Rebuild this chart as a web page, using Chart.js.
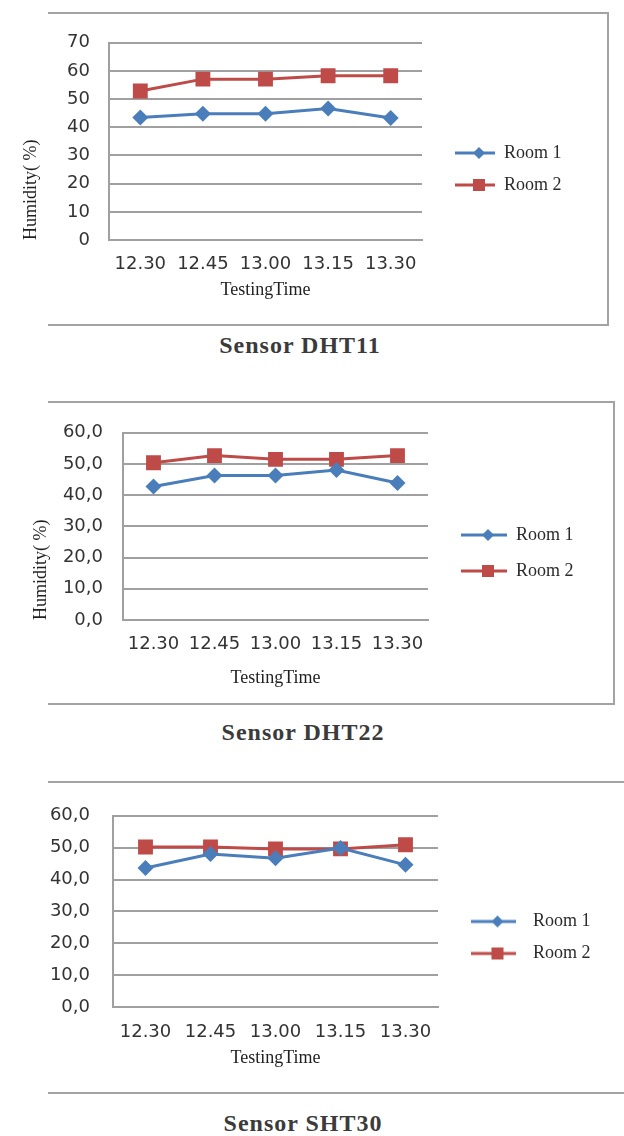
<!DOCTYPE html>
<html>
<head>
<meta charset="utf-8">
<title>Humidity - Sensor DHT11 / DHT22 / SHT30</title>
<script src="https://cdn.jsdelivr.net/npm/chart.js@4.4.1/dist/chart.umd.min.js"></script>
<style>
  body { margin: 0; background: #fff; }
  #page { position: relative; width: 624px; height: 1136px; overflow: hidden; }
  .frame { position: absolute; box-sizing: border-box; border: 2px solid #a3a3a3; border-left: none; }
  canvas { position: absolute; left: 0; }
  .caption { position: absolute; left: 0; text-align: center; font: bold 24px 'Liberation Serif', serif;
             letter-spacing: 1px; color: #3b3b3b; line-height: 28px; }
</style>
</head>
<body>
<div id="page">
  <div class="frame" style="left:48px;top:12px;width:561px;height:314px"></div>
  <canvas id="chartDHT11" width="624" height="312" style="top:13px"></canvas>
  <div class="caption" style="top:331px;width:600px">Sensor DHT11</div>

  <div class="frame" style="left:48px;top:401px;width:567px;height:304px"></div>
  <canvas id="chartDHT22" width="624" height="302" style="top:402px"></canvas>
  <div class="caption" style="top:718px;width:606px">Sensor DHT22</div>

  <div class="frame" style="left:48px;top:781px;width:600px;height:313px"></div>
  <canvas id="chartSHT30" width="624" height="311" style="top:782px"></canvas>
  <div class="caption" style="top:1109px;width:606px">Sensor SHT30</div>
</div>

<script>
// testing times (x axis)
const times = ['12.30', '12.45', '13.00', '13.15', '13.30'];

// humidity (%)
const dht11Room1 = [43.5, 44.8, 44.8, 46.7, 43.3];
const dht11Room2 = [52.9, 57.1, 57.1, 58.3, 58.3];
const dht22Room1 = [42.8, 46.3, 46.3, 48.1, 43.9];
const dht22Room2 = [50.4, 52.7, 51.5, 51.5, 52.7];
const sht30Room1 = [43.6, 48.0, 46.7, 49.9, 44.6];
const sht30Room2 = [50.2, 50.2, 49.6, 49.6, 50.9];

// y tick labels
const ticksDHT11 = ['0', '10', '20', '30', '40', '50', '60', '70'];
const ticksComma = ['0,0', '10,0', '20,0', '30,0', '40,0', '50,0', '60,0'];

const BLUE = '#4a7ebb';
const RED = '#be4b48';
const GRID = '#a0a0a0';
const LEGEND_FONT = 18;

// small "line + marker" image for the legend, like the Excel legend
function legendMarker(color, shape, boxW, lineLen) {
    const c = document.createElement('canvas');
    c.width = Math.ceil(boxW);
    c.height = 18;
    const g = c.getContext('2d');
    g.strokeStyle = color;
    g.lineWidth = 3;
    g.beginPath();
    g.moveTo(0, 9);
    g.lineTo(lineLen, 9);
    g.stroke();
    g.fillStyle = color;
    const mx = lineLen / 2 + 4;
    if (shape === 'diamond') {
        g.beginPath();
        g.moveTo(mx, 3);
        g.lineTo(mx + 6, 9);
        g.lineTo(mx, 15);
        g.lineTo(mx - 6, 9);
        g.closePath();
        g.fill();
    } else {
        g.fillRect(mx - 6, 3, 12, 12);
    }
    return c;
}

function buildChart(id, room1, room2, yMax, yLabels, lay) {
    const markers = [
        legendMarker(BLUE, 'diamond', lay.boxW, lay.lineLen),
        legendMarker(RED, 'square', lay.boxW, lay.lineLen)
    ];
    const canvasH = document.getElementById(id).height;
    // legend box width: padding + marker + gap + room for the text
    const legendW = lay.legendPad + lay.boxW + LEGEND_FONT / 2 + 64;

    new Chart(document.getElementById(id), {
        type: 'line',
        data: {
            labels: times,
            datasets: [
                {
                    label: 'Room 1',
                    data: room1,
                    borderColor: BLUE,
                    backgroundColor: BLUE,
                    borderWidth: 3,
                    pointStyle: 'rectRot',
                    pointRadius: 8,
                    pointBorderWidth: 0,
                    tension: 0
                },
                {
                    label: 'Room 2',
                    data: room2,
                    borderColor: RED,
                    backgroundColor: RED,
                    borderWidth: 3,
                    pointStyle: 'rect',
                    pointRadius: 10.5,
                    pointBorderWidth: 0,
                    tension: 0
                }
            ]
        },
        options: {
            responsive: false,
            animation: false,
            layout: { padding: { left: 0, top: 0, bottom: 0, right: 624 - lay.plotRight - legendW - lay.gapRight } },
            plugins: {
                tooltip: { enabled: false },
                legend: {
                    position: 'right',
                    align: 'center',
                    maxWidth: legendW,
                    labels: {
                        usePointStyle: true,
                        pointStyleWidth: lay.boxW,
                        padding: lay.legendPad,
                        font: { family: 'Liberation Serif', size: LEGEND_FONT },
                        color: '#2b2b2b',
                        generateLabels: function (chart) {
                            return chart.data.datasets.map(function (ds, i) {
                                return {
                                    text: ds.label,
                                    pointStyle: markers[i],
                                    fillStyle: ds.borderColor,
                                    strokeStyle: ds.borderColor,
                                    lineWidth: 0,
                                    hidden: false,
                                    fontColor: '#2b2b2b',
                                    datasetIndex: i
                                };
                            });
                        }
                    }
                }
            },
            scales: {
                x: {
                    offset: true,
                    grid: { display: false, drawTicks: false },
                    border: { display: true, color: GRID, width: 2 },
                    ticks: {
                        padding: lay.xTickPad,
                        color: '#333333',
                        maxRotation: 0,
                        font: { family: 'DejaVu Sans', size: 18 }
                    },
                    title: {
                        display: true,
                        text: 'TestingTime',
                        color: '#1f1f1f',
                        font: { family: 'Liberation Serif', size: 18 },
                        padding: { top: 0, bottom: lay.xTitlePad }
                    },
                    afterFit: function (s) { s.height = canvasH - lay.plotBottom; }
                },
                y: {
                    min: 0,
                    max: yMax,
                    grid: { color: GRID, lineWidth: 2, drawTicks: false },
                    border: { display: true, color: GRID, width: 2 },
                    ticks: {
                        stepSize: 10,
                        padding: lay.yTickPad,
                        color: '#333333',
                        font: { family: 'DejaVu Sans', size: 18 },
                        callback: function (v, i) { return yLabels[i]; }
                    },
                    title: {
                        display: lay.yTitle,
                        text: 'Humidity( %)',
                        align: 'start',
                        color: '#1f1f1f',
                        font: { family: 'Liberation Serif', size: 18 },
                        padding: { top: lay.yTitlePad, bottom: 0 }
                    },
                    afterFit: function (s) { s.width = lay.plotLeft; }
                },
                // empty spacer axes so the plot and legend sit where they do in the picture
                xTop: {
                    type: 'linear',
                    position: 'top',
                    grid: { display: false, drawTicks: false },
                    border: { display: false },
                    ticks: { display: false },
                    afterFit: function (s) { s.height = lay.plotTop; }
                },
                yRight: {
                    type: 'linear',
                    position: 'right',
                    grid: { display: false, drawTicks: false },
                    border: { display: false },
                    ticks: { display: false },
                    afterFit: function (s) { s.width = lay.gapRight; }
                }
            }
        }
    });
}

document.addEventListener('DOMContentLoaded', function () {
    buildChart('chartDHT11', dht11Room1, dht11Room2, 70, ticksDHT11, {
        plotTop: 20, plotBottom: 227, plotLeft: 109, plotRight: 422, gapRight: 19,
        xTickPad: 14, yTickPad: 19, xTitlePad: 24, yTitle: true, yTitlePad: 20,
        legendPad: 14, boxW: 40, lineLen: 40
    });
    buildChart('chartDHT22', dht22Room1, dht22Room2, 60, ticksComma, {
        plotTop: 21, plotBottom: 218, plotLeft: 123, plotRight: 428, gapRight: 15,
        xTickPad: 14, yTickPad: 20, xTitlePad: 15, yTitle: true, yTitlePad: 30,
        legendPad: 18, boxW: 46, lineLen: 46
    });
    buildChart('chartSHT30', sht30Room1, sht30Room2, 60, ticksComma, {
        plotTop: 17, plotBottom: 225, plotLeft: 113, plotRight: 438, gapRight: 19,
        xTickPad: 15, yTickPad: 23, xTitlePad: 24, yTitle: false, yTitlePad: 0,
        legendPad: 14, boxW: 53, lineLen: 45
    });
});
</script>
</body>
</html>
